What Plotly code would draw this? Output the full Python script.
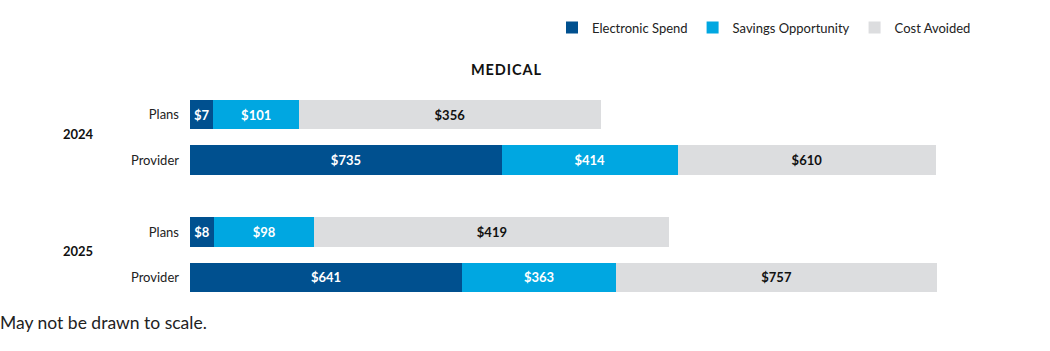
import plotly.graph_objects as go

# ---- data ----
years = ["2024", "2025"]
rows = ["Plans", "Provider"]
series_names = ["Electronic Spend", "Savings Opportunity", "Cost Avoided"]

# dollar values shown as labels
electronic = [7, 735, 8, 641]
savings = [101, 414, 98, 363]
avoided = [356, 610, 419, 757]

# drawn bar lengths (chart "may not be drawn to scale")
electronic_len = [55, 735, 57, 641]
savings_len = [202, 414, 236, 363]
avoided_len = [711, 610, 837, 757]

colors = ["#00508F", "#00A7E1", "#DCDDDF"]
text_colors = ["white", "white", "#111111"]

FONT = "Lato"

# row positions: rows within a year are 1 unit apart, years separated by a wider gap
group_spacing = 2.59
ypos = []
row_labels = []
for gi, yr in enumerate(years):
    for ri, r in enumerate(rows):
        ypos.append(gi * group_spacing + ri)
        row_labels.append(r)

W, H = 1050, 351
ML, MR, MT, MB = 190, 60, 78, 51
plot_w = W - ML - MR
plot_h = H - MT - MB


def py(px_from_top):
    return (H - MB - px_from_top) / plot_h


def pxx(px_from_left):
    return (px_from_left - ML) / plot_w


fig = go.Figure()
for name, lens, vals, col, tcol in zip(
    series_names,
    [electronic_len, savings_len, avoided_len],
    [electronic, savings, avoided],
    colors,
    text_colors,
):
    fig.add_trace(
        go.Bar(
            name=name,
            orientation="h",
            y=ypos,
            x=lens,
            width=0.645,
            marker=dict(color=col, line=dict(width=0)),
            text=[f"${v}" for v in vals],
            textposition="inside",
            insidetextanchor="middle",
            textangle=0,
            textfont=dict(family=FONT, size=13, color=tcol, weight="bold"),
            hoverinfo="skip",
        )
    )

# year labels
for gi, yr in enumerate(years):
    ys = [ypos[gi * len(rows) + ri] for ri in range(len(rows))]
    fig.add_annotation(
        x=pxx(61), xref="paper", xanchor="left",
        y=sum(ys) / len(ys) - 0.08, yref="y", yanchor="middle",
        text=f"<b>{yr}</b>", showarrow=False,
        font=dict(family=FONT, size=13, color="#111111"),
    )

# title
fig.add_annotation(
    x=pxx(506), xref="paper", xanchor="center",
    y=py(67), yref="paper", yanchor="middle",
    text="<b>M E D I C A L</b>".replace(" ", "&#8202;"), showarrow=False,
    font=dict(family=FONT, size=14.5, color="#111111"),
)

# footnote
fig.add_annotation(
    x=pxx(-2), xref="paper", xanchor="left",
    y=py(323), yref="paper", yanchor="middle",
    text="May not be drawn to scale.", showarrow=False,
    font=dict(family=FONT, size=17.5, color="#222222"),
)

fig.update_layout(
    width=W, height=H,
    margin=dict(l=ML, r=MR, t=MT, b=MB),
    barmode="stack",
    plot_bgcolor="white",
    paper_bgcolor="white",
    font=dict(family=FONT, color="#222222"),
    uniformtext=dict(minsize=13, mode="show"),
    showlegend=True,
    legend=dict(
        orientation="h",
        x=pxx(976), xanchor="right",
        y=py(10), yanchor="top",
        font=dict(family=FONT, size=13, color="#222222"),
        itemwidth=30,
        traceorder="normal",
    ),
    xaxis=dict(range=[0, 1885.5], visible=False),
    yaxis=dict(
        range=[(H - MB - 113) / 45.7, -(113 - MT) / 45.7],
        tickvals=ypos, ticktext=row_labels,
        showgrid=False, zeroline=False, showline=False,
        ticks="", ticklabelstandoff=10,
        tickfont=dict(family=FONT, size=13, color="#222222"),
    ),
)

fig.write_html("out.html")
